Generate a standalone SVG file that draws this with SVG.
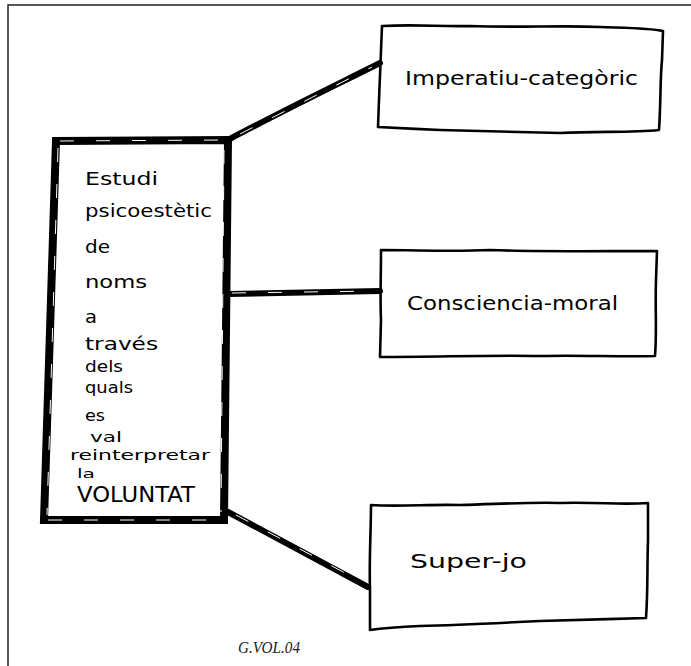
<svg xmlns="http://www.w3.org/2000/svg" width="691" height="666" viewBox="0 0 691 666">
<style>
.frame{fill:none;stroke:#222;stroke-width:1.5}
.box{fill:none;stroke:#000;stroke-width:2.6;stroke-linejoin:round;stroke-linecap:round}
.main{fill:none;stroke:#000;stroke-width:8;stroke-linejoin:miter}
.streak{fill:none;stroke:#fff;stroke-width:1;stroke-dasharray:14 22}
.conn{fill:none;stroke:#000;stroke-width:6;stroke-linecap:round}
.hand{font-family:"DejaVu Sans","Liberation Sans",sans-serif;fill:#000}
.cap{font-family:"Liberation Serif","Times New Roman",serif;font-style:italic;fill:#222}
</style>
<rect width="691" height="666" fill="#fff"/>
<path class="frame" d="M8,700 L8,5 L700,5"/>

<g id="connectors">
<path class="conn" d="M228,140 C280,112 330,88 380,63"/>
<path class="streak" d="M240,134 L372,67"/>
<path class="conn" d="M229,294 L380,291" stroke-width="5"/>
<path class="streak" d="M232,293 L376,291"/>
<path class="conn" d="M228,512 L368,587"/>
<path class="streak" d="M236,515 L362,582"/>
</g>

<g id="node-main">
<path class="main" d="M56,141 L228,140 L224,520 L44,520 Z"/>
<path class="streak" d="M58,148 L47,515 M224,150 L221,512 M60,141 L224,140 M48,520 L220,520"/>
<text class="hand" font-size="17" x="85" y="185" textLength="73" lengthAdjust="spacingAndGlyphs">Estudi</text>
<text class="hand" font-size="17" x="85" y="217" textLength="127" lengthAdjust="spacingAndGlyphs">psicoestètic</text>
<text class="hand" font-size="17" x="85" y="253" textLength="25" lengthAdjust="spacingAndGlyphs">de</text>
<text class="hand" font-size="17" x="85" y="288" textLength="62" lengthAdjust="spacingAndGlyphs">noms</text>
<text class="hand" font-size="17" x="85" y="323" textLength="12" lengthAdjust="spacingAndGlyphs">a</text>
<text class="hand" font-size="17" x="85" y="350" textLength="73" lengthAdjust="spacingAndGlyphs">través</text>
<text class="hand" font-size="16" x="85" y="372" textLength="38" lengthAdjust="spacingAndGlyphs">dels</text>
<text class="hand" font-size="16" x="85" y="393" textLength="48" lengthAdjust="spacingAndGlyphs">quals</text>
<text class="hand" font-size="16" x="85" y="421" textLength="20" lengthAdjust="spacingAndGlyphs">es</text>
<text class="hand" font-size="14" x="90" y="442" textLength="32" lengthAdjust="spacingAndGlyphs">val</text>
<text class="hand" font-size="14" x="70" y="460" textLength="140" lengthAdjust="spacingAndGlyphs">reinterpretar</text>
<text class="hand" font-size="13" x="77" y="478" textLength="18" lengthAdjust="spacingAndGlyphs">la</text>
<text class="hand" font-size="22" x="77" y="502" textLength="118" lengthAdjust="spacingAndGlyphs">VOLUNTAT</text>
</g>

<g id="node-imperatiu">
<path class="box" d="M382,26 C420,24 440,27 470,26 C520,28 560,25 600,27 C630,28 650,28 663,31 L662,60 C660,80 661,100 659,130 C630,133 600,131 560,133 C520,132 480,131 440,130 C420,129 395,128 378,127 L379,100 C380,70 381,45 382,26 Z"/>
<text class="hand" font-size="20" x="405" y="85" textLength="233" lengthAdjust="spacingAndGlyphs">Imperatiu-categòric</text>
</g>

<g id="node-consciencia">
<path class="box" d="M381,250 C420,250 450,252 490,250 C540,252 600,251 657,251 L656,280 C655,310 657,330 655,356 C620,357 580,355 540,356 C490,355 440,357 380,357 L381,320 C380,300 381,275 381,250 Z"/>
<text class="hand" font-size="19" x="407" y="310" textLength="211" lengthAdjust="spacingAndGlyphs">Consciencia-moral</text>
</g>

<g id="node-superjo">
<path class="box" d="M371,505 C400,507 430,504 460,505 C500,504 530,502 560,503 C600,502 620,505 648,503 L648,540 C647,570 648,590 646,618 C610,619 580,620 540,621 C500,623 460,625 420,626 C400,627 385,628 370,630 L370,590 C369,560 371,530 371,505 Z"/>
<text class="hand" font-size="20" x="410" y="568" textLength="117" lengthAdjust="spacingAndGlyphs">Super-jo</text>
</g>

<text class="cap" font-size="17" x="269" y="653" text-anchor="middle" textLength="62" lengthAdjust="spacingAndGlyphs">G.VOL.04</text>
</svg>
